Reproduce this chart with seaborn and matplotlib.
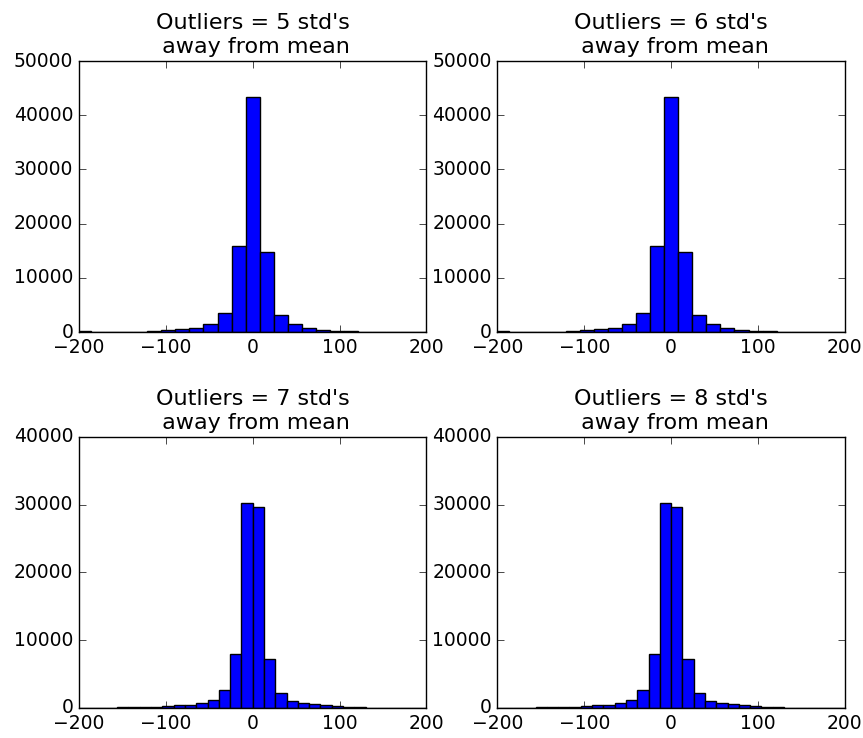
import numpy as np
import pandas as pd
import matplotlib
matplotlib.use("Agg")
import matplotlib.pyplot as plt
import seaborn as sns

# ---- data ----
titles = ["Outliers = 5 std's\n away from mean", "Outliers = 6 std's\n away from mean",
          "Outliers = 7 std's\n away from mean", "Outliers = 8 std's\n away from mean"]

# top row: bin width ~16.2, bins centred on 0
top_edges = [-202.5, -186.3, -170.1, -153.9, -137.7, -121.5, -105.3, -89.1, -72.9, -56.7,
             -40.5, -24.3, -8.1, 8.1, 24.3, 40.5, 56.7, 72.9, 89.1, 105.3, 121.5,
             137.7, 153.9, 170.1, 186.3, 202.5]
top_counts = [120, 40, 50, 60, 100, 200, 370, 550, 800, 1500, 3550, 15900, 43300, 14700,
              3080, 1400, 740, 380, 220, 150, 40, 20, 10, 10, 10]

# bottom row: bin width ~13, edges on multiples of 13
bottom_edges = [-208, -195, -182, -169, -156, -143, -130, -117, -104, -91, -78, -65, -52,
                -39, -26, -13, 0, 13, 26, 39, 52, 65, 78, 91, 104, 117, 130, 143, 156,
                169, 182, 195, 208]
bottom_counts = [60, 50, 50, 60, 70, 90, 120, 160, 250, 400, 500, 740, 1150, 2660, 7970,
                 30200, 29700, 7300, 2150, 1030, 700, 550, 400, 300, 160, 80, 50, 40, 30,
                 30, 30, 30]

top_ylim = 50000
bottom_ylim = 40000
xticks = [-200, -100, 0, 100, 200]

plt.style.use("classic")
sns.set_style("ticks", {"xtick.direction": "in", "ytick.direction": "in"})
plt.rcParams["font.family"] = ["DejaVu Sans"]
plt.rcParams["text.color"] = "black"
plt.rcParams["axes.labelcolor"] = "black"
plt.rcParams["xtick.color"] = "black"
plt.rcParams["ytick.color"] = "black"
plt.rcParams["axes.edgecolor"] = "black"

fig, axes = plt.subplots(2, 2, figsize=(8.63, 7.38), dpi=100)
fig.patch.set_facecolor("white")
fig.subplots_adjust(left=0.0915, right=0.979, top=0.9173, bottom=0.0407,
                    wspace=0.204, hspace=0.387)

panels = [(top_edges, top_counts, top_ylim), (top_edges, top_counts, top_ylim),
          (bottom_edges, bottom_counts, bottom_ylim), (bottom_edges, bottom_counts, bottom_ylim)]

for ax, title, (edges, counts, ylim) in zip(axes.flat, titles, panels):
    e = [float(v) for v in edges]
    centers = [(a + b) / 2 for a, b in zip(e[:-1], e[1:])]
    df = pd.DataFrame({"x": centers, "w": [float(c) for c in counts]})
    sns.histplot(data=df, x="x", weights="w", bins=e, ax=ax, color="blue",
                 edgecolor="black", linewidth=1.0, alpha=1.0)
    ax.set_xlim(-200, 200)
    ax.set_ylim(0, ylim)
    ax.set_xticks(xticks)
    ax.set_yticks(np.arange(0, ylim + 1, 10000))
    ax.set_xlabel("")
    ax.set_ylabel("")
    ax.set_facecolor("white")
    ax.set_title(title, fontsize=16, pad=6, color="black")
    ax.tick_params(axis="both", which="both", direction="in", top=True, right=True,
                   labelsize=13.5, length=5, pad=4, colors="black")
    for sp in ax.spines.values():
        sp.set_visible(True)
        sp.set_color("black")
        sp.set_linewidth(1.0)

fig.savefig("out.png", dpi=100, facecolor="white")
